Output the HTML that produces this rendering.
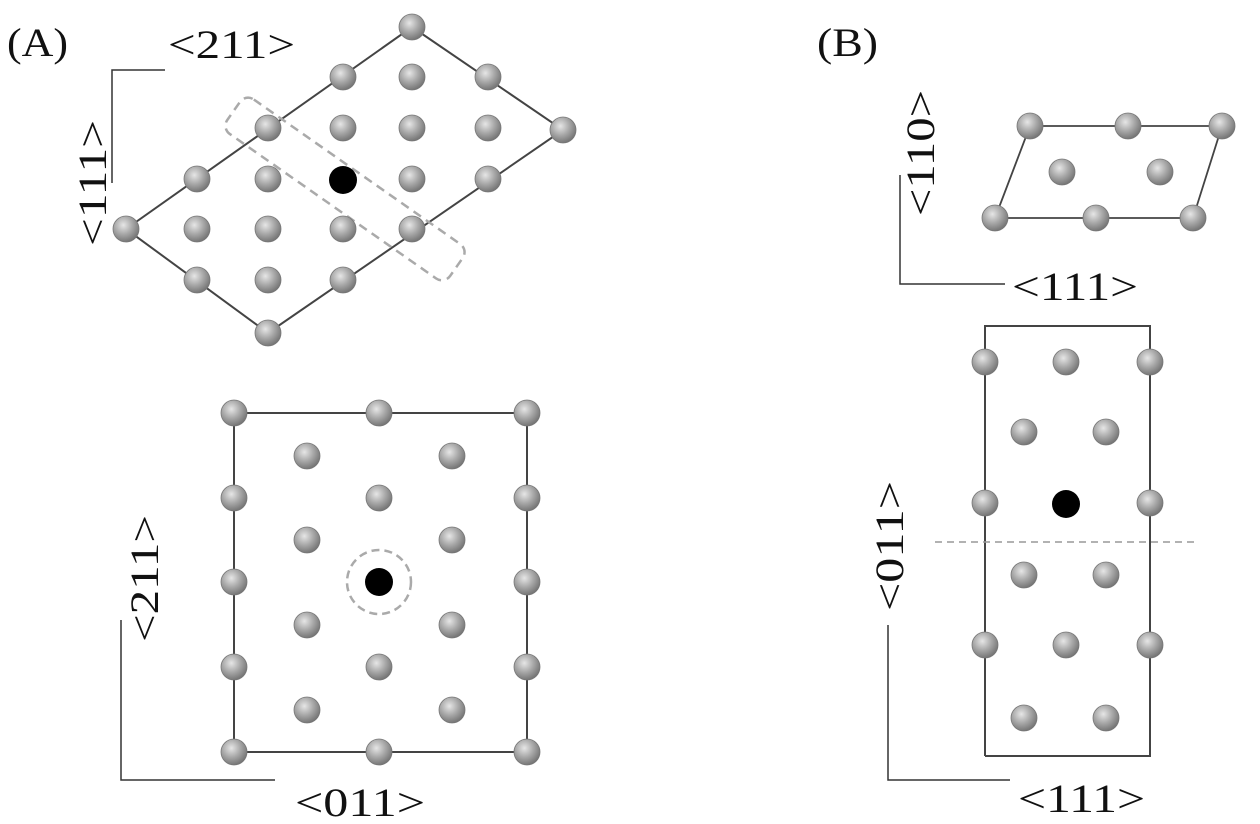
<!DOCTYPE html>
<html><head><meta charset="utf-8"><style>
html,body{margin:0;padding:0;background:#fff;}
svg{display:block;}
text{font-family:"Liberation Serif",serif;fill:#111;}
</style></head><body>
<svg width="1260" height="824" viewBox="0 0 1260 824" xmlns="http://www.w3.org/2000/svg">
<defs>
<radialGradient id="g" cx="0.4" cy="0.35" r="0.7">
<stop offset="0" stop-color="#e6e6e6"/><stop offset="0.5" stop-color="#a8a8a8"/><stop offset="1" stop-color="#6e6e6e"/>
</radialGradient>
<symbol id="a" overflow="visible"><circle r="13" fill="url(#g)" stroke="#777" stroke-width="0.8"/></symbol>
</defs>
<text x="7" y="56" font-size="40" textLength="61" lengthAdjust="spacingAndGlyphs">(A)</text>
<text x="817" y="56" font-size="40" textLength="61" lengthAdjust="spacingAndGlyphs">(B)</text>

<!-- A top -->
<polygon points="412,27 563,130 268,333 126,229" fill="none" stroke="#444" stroke-width="2"/>
<g transform="translate(345,189) rotate(35)">
<rect x="-136" y="-21" width="272" height="42" rx="10" fill="none" stroke="#aaa" stroke-width="2.5" stroke-dasharray="9,6"/>
</g>
<g>
<use href="#a" x="412" y="27"/>
<use href="#a" x="343" y="77"/><use href="#a" x="412" y="77"/><use href="#a" x="488" y="77"/>
<use href="#a" x="268" y="128"/><use href="#a" x="343" y="128"/><use href="#a" x="412" y="128"/><use href="#a" x="488" y="128"/><use href="#a" x="563" y="130"/>
<use href="#a" x="197" y="179"/><use href="#a" x="268" y="179"/><use href="#a" x="412" y="179"/><use href="#a" x="488" y="179"/>
<use href="#a" x="126" y="229"/><use href="#a" x="197" y="229"/><use href="#a" x="268" y="229"/><use href="#a" x="343" y="229"/><use href="#a" x="412" y="229"/>
<use href="#a" x="197" y="280"/><use href="#a" x="268" y="280"/><use href="#a" x="343" y="280"/>
<use href="#a" x="268" y="333"/>
<circle cx="343" cy="180" r="14" fill="#000"/>
</g>
<polyline points="112,183 112,70 165,70" fill="none" stroke="#333" stroke-width="1.5"/>
<text x="168" y="58" font-size="40" textLength="127" lengthAdjust="spacingAndGlyphs">&lt;211&gt;</text>
<text transform="translate(106,246) rotate(-90)" font-size="40" textLength="126" lengthAdjust="spacingAndGlyphs">&lt;111&gt;</text>

<!-- A bottom -->
<rect x="234" y="413" width="293" height="339" fill="none" stroke="#444" stroke-width="2"/>
<circle cx="379" cy="582" r="32" fill="none" stroke="#aaa" stroke-width="2.5" stroke-dasharray="8,5"/>
<g>
<use href="#a" x="234" y="413"/><use href="#a" x="234" y="498"/><use href="#a" x="234" y="582"/><use href="#a" x="234" y="667"/><use href="#a" x="234" y="752"/>
<use href="#a" x="527" y="413"/><use href="#a" x="527" y="498"/><use href="#a" x="527" y="582"/><use href="#a" x="527" y="667"/><use href="#a" x="527" y="752"/>
<use href="#a" x="379" y="413"/><use href="#a" x="379" y="752"/>
<use href="#a" x="307" y="456"/><use href="#a" x="452" y="456"/><use href="#a" x="379" y="498"/>
<use href="#a" x="307" y="540"/><use href="#a" x="452" y="540"/>
<use href="#a" x="307" y="625"/><use href="#a" x="452" y="625"/><use href="#a" x="379" y="667"/>
<use href="#a" x="307" y="710"/><use href="#a" x="452" y="710"/>
<circle cx="379" cy="582" r="14" fill="#000"/>
</g>
<polyline points="121,620 121,780 275,780" fill="none" stroke="#333" stroke-width="1.5"/>
<text x="295" y="816" font-size="40" textLength="130" lengthAdjust="spacingAndGlyphs">&lt;011&gt;</text>
<text transform="translate(158,642) rotate(-90)" font-size="40" textLength="127" lengthAdjust="spacingAndGlyphs">&lt;211&gt;</text>

<!-- B top -->
<polygon points="1030,126 1222,126 1193,218 995,218" fill="none" stroke="#444" stroke-width="1.8"/>
<use href="#a" x="1030" y="126"/><use href="#a" x="1128" y="126"/><use href="#a" x="1222" y="126"/>
<use href="#a" x="1062" y="172"/><use href="#a" x="1160" y="172"/>
<use href="#a" x="995" y="218"/><use href="#a" x="1096" y="218"/><use href="#a" x="1193" y="218"/>
<polyline points="900,175 900,284 1005,284" fill="none" stroke="#333" stroke-width="1.5"/>
<text x="1012" y="300" font-size="40" textLength="126" lengthAdjust="spacingAndGlyphs">&lt;111&gt;</text>
<text transform="translate(934,216) rotate(-90)" font-size="40" textLength="126" lengthAdjust="spacingAndGlyphs">&lt;110&gt;</text>

<!-- B bottom -->
<polyline points="985,756 985,326 1150,326 1150,756 985,756" fill="none" stroke="#444" stroke-width="2"/>
<line x1="935" y1="542" x2="1195" y2="542" stroke="#999" stroke-width="1.5" stroke-dasharray="7,5"/>
<use href="#a" x="985" y="362"/><use href="#a" x="985" y="503"/><use href="#a" x="985" y="645"/>
<use href="#a" x="1150" y="362"/><use href="#a" x="1150" y="503"/><use href="#a" x="1150" y="645"/>
<use href="#a" x="1066" y="362"/><use href="#a" x="1066" y="645"/>
<use href="#a" x="1024" y="432"/><use href="#a" x="1106" y="432"/>
<use href="#a" x="1024" y="575"/><use href="#a" x="1106" y="575"/>
<use href="#a" x="1024" y="718"/><use href="#a" x="1106" y="718"/>
<circle cx="1066" cy="504" r="14" fill="#000"/>
<polyline points="888,625 888,780 1010,780" fill="none" stroke="#333" stroke-width="1.5"/>
<text x="1018" y="812" font-size="40" textLength="127" lengthAdjust="spacingAndGlyphs">&lt;111&gt;</text>
<text transform="translate(903,611) rotate(-90)" font-size="40" textLength="130" lengthAdjust="spacingAndGlyphs">&lt;011&gt;</text>
</svg>
</body></html>
